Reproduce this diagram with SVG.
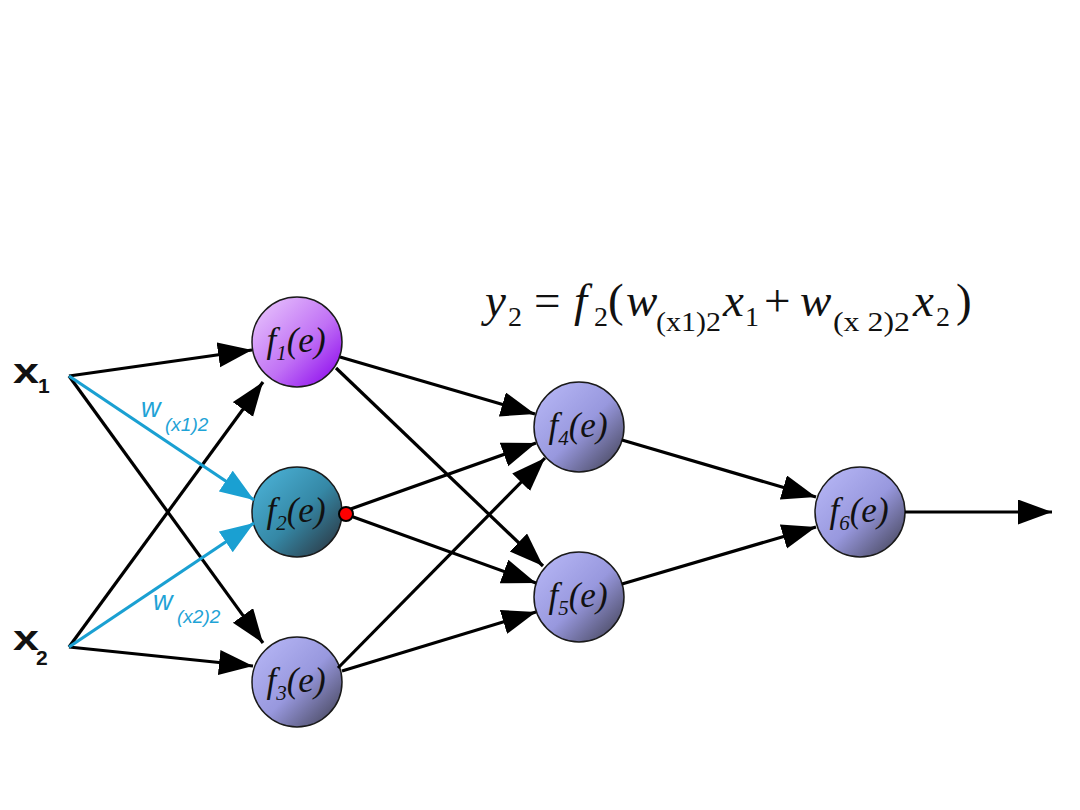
<svg xmlns="http://www.w3.org/2000/svg" width="1080" height="810" viewBox="0 0 1080 810">
<style>
.c{stroke:#1a1a1a;stroke-width:1.5}
.lbl{font-family:"Liberation Serif",serif;font-style:italic;font-size:35px;fill:#111}
.sub{font-size:21px}
.k{stroke:#000;stroke-width:3.2;fill:none;marker-end:url(#ak)}
.b{stroke:#1aa0d2;stroke-width:3.2;fill:none;marker-end:url(#ab)}
.eq{font-family:"Liberation Serif",serif;font-size:47px;fill:#111}
.eqs{font-family:"Liberation Serif",serif;font-size:28px;fill:#111}
.in{font-family:"Liberation Sans",sans-serif;font-weight:bold;fill:#111}
.w{font-family:"Liberation Sans",sans-serif;font-style:italic;fill:#1fa3d6}
</style>
<defs>
<linearGradient id="g1" x1="0.15" y1="0.1" x2="0.95" y2="0.9">
<stop offset="0" stop-color="#e2b8fb"/><stop offset="0.55" stop-color="#c070f5"/><stop offset="1" stop-color="#9010ee"/>
</linearGradient>
<linearGradient id="g2" x1="0.15" y1="0.1" x2="0.95" y2="0.9">
<stop offset="0" stop-color="#48acd0"/><stop offset="0.5" stop-color="#3588a6"/><stop offset="1" stop-color="#2c3a46"/>
</linearGradient>
<linearGradient id="g3" x1="0.15" y1="0.1" x2="0.95" y2="0.9">
<stop offset="0" stop-color="#b2b2f2"/><stop offset="0.5" stop-color="#9898de"/><stop offset="1" stop-color="#4a4a62"/>
</linearGradient>
<marker id="ak" markerUnits="userSpaceOnUse" markerWidth="36" markerHeight="26" refX="34" refY="12.5" orient="auto">
<path d="M0,0 L34,12.5 L0,25 Z" fill="#000"/>
</marker>
<marker id="ab" markerUnits="userSpaceOnUse" markerWidth="36" markerHeight="26" refX="34" refY="12.5" orient="auto">
<path d="M0,0 L34,12.5 L0,25 Z" fill="#1aa0d2"/>
</marker>
</defs>
<rect width="1080" height="810" fill="#fff"/>

<g id="n1"><circle class="c" cx="297" cy="342" r="45" fill="url(#g1)"/>
<text class="lbl" x="296" y="352" text-anchor="middle">f<tspan class="sub" dy="8">1</tspan><tspan dy="-8">(e)</tspan></text></g>
<g id="n2"><circle class="c" cx="297" cy="512" r="45" fill="url(#g2)"/>
<text class="lbl" x="296" y="522" text-anchor="middle">f<tspan class="sub" dy="8">2</tspan><tspan dy="-8">(e)</tspan></text></g>
<g id="n3"><circle class="c" cx="297" cy="682" r="45" fill="url(#g3)"/>
<text class="lbl" x="296" y="692" text-anchor="middle">f<tspan class="sub" dy="8">3</tspan><tspan dy="-8">(e)</tspan></text></g>
<g id="n4"><circle class="c" cx="579" cy="427" r="45" fill="url(#g3)"/>
<text class="lbl" x="578" y="437" text-anchor="middle">f<tspan class="sub" dy="8">4</tspan><tspan dy="-8">(e)</tspan></text></g>
<g id="n5"><circle class="c" cx="579" cy="597" r="45" fill="url(#g3)"/>
<text class="lbl" x="578" y="607" text-anchor="middle">f<tspan class="sub" dy="8">5</tspan><tspan dy="-8">(e)</tspan></text></g>
<g id="n6"><circle class="c" cx="860" cy="512" r="45" fill="url(#g3)"/>
<text class="lbl" x="859" y="522" text-anchor="middle">f<tspan class="sub" dy="8">6</tspan><tspan dy="-8">(e)</tspan></text></g>

<g id="connectors">
<line class="k" x1="69" y1="376" x2="252" y2="350"/>
<line class="k" x1="69" y1="376" x2="263" y2="643"/>
<line class="k" x1="69" y1="647" x2="263" y2="382"/>
<line class="k" x1="69" y1="647" x2="253" y2="666"/>
<line class="b" x1="69" y1="376" x2="254" y2="500"/>
<line class="b" x1="69" y1="647" x2="254" y2="523"/>
<line class="k" x1="340" y1="357" x2="535" y2="414"/>
<line class="k" x1="336" y1="368" x2="543" y2="566"/>
<line class="k" x1="345" y1="511" x2="536" y2="443"/>
<line class="k" x1="345" y1="514" x2="536" y2="583"/>
<line class="k" x1="338" y1="668" x2="545" y2="458"/>
<line class="k" x1="342" y1="671" x2="536" y2="612"/>
<line class="k" x1="622" y1="440" x2="816" y2="497"/>
<line class="k" x1="622" y1="584" x2="816" y2="527"/>
<line class="k" x1="905" y1="512" x2="1052" y2="512"/>
</g>
<circle id="dot" cx="346" cy="514" r="7" fill="#f00" stroke="#000" stroke-width="2"/>

<g id="x1"><text class="in" x="13" y="383" font-size="35" textLength="26" lengthAdjust="spacingAndGlyphs">x</text><text class="in" x="38" y="393" font-size="21">1</text></g>
<g id="x2"><text class="in" x="13" y="650" font-size="35" textLength="26" lengthAdjust="spacingAndGlyphs">x</text><text class="in" x="36" y="665" font-size="21">2</text></g>

<g id="w1"><text class="w" x="141" y="417" font-size="27">w</text><text class="w" x="165" y="431" font-size="19">(x1)2</text></g>
<g id="w2"><text class="w" x="153" y="610" font-size="27">w</text><text class="w" x="177" y="623" font-size="19">(x2)2</text></g>

<g id="equation">
<text class="eq" x="485" y="316" font-style="italic">y</text>
<text class="eqs" x="508" y="326">2</text>
<text class="eq" x="534" y="316">=</text>
<text class="eq" x="574" y="316" font-style="italic">f</text>
<text class="eqs" x="594" y="326">2</text>
<text class="eq" x="608" y="316">(</text>
<text class="eq" x="626" y="316" font-style="italic">w</text>
<text class="eqs" x="656" y="331" textLength="65" lengthAdjust="spacingAndGlyphs">(x1)2</text>
<text class="eq" x="723" y="316" font-style="italic">x</text>
<text class="eqs" x="745" y="326">1</text>
<text class="eq" x="764" y="316">+</text>
<text class="eq" x="800" y="316" font-style="italic">w</text>
<text class="eqs" x="833" y="331" textLength="77" lengthAdjust="spacingAndGlyphs">(x 2)2</text>
<text class="eq" x="913" y="316" font-style="italic">x</text>
<text class="eqs" x="936" y="326">2</text>
<text class="eq" x="956" y="316">)</text>
</g>
</svg>
